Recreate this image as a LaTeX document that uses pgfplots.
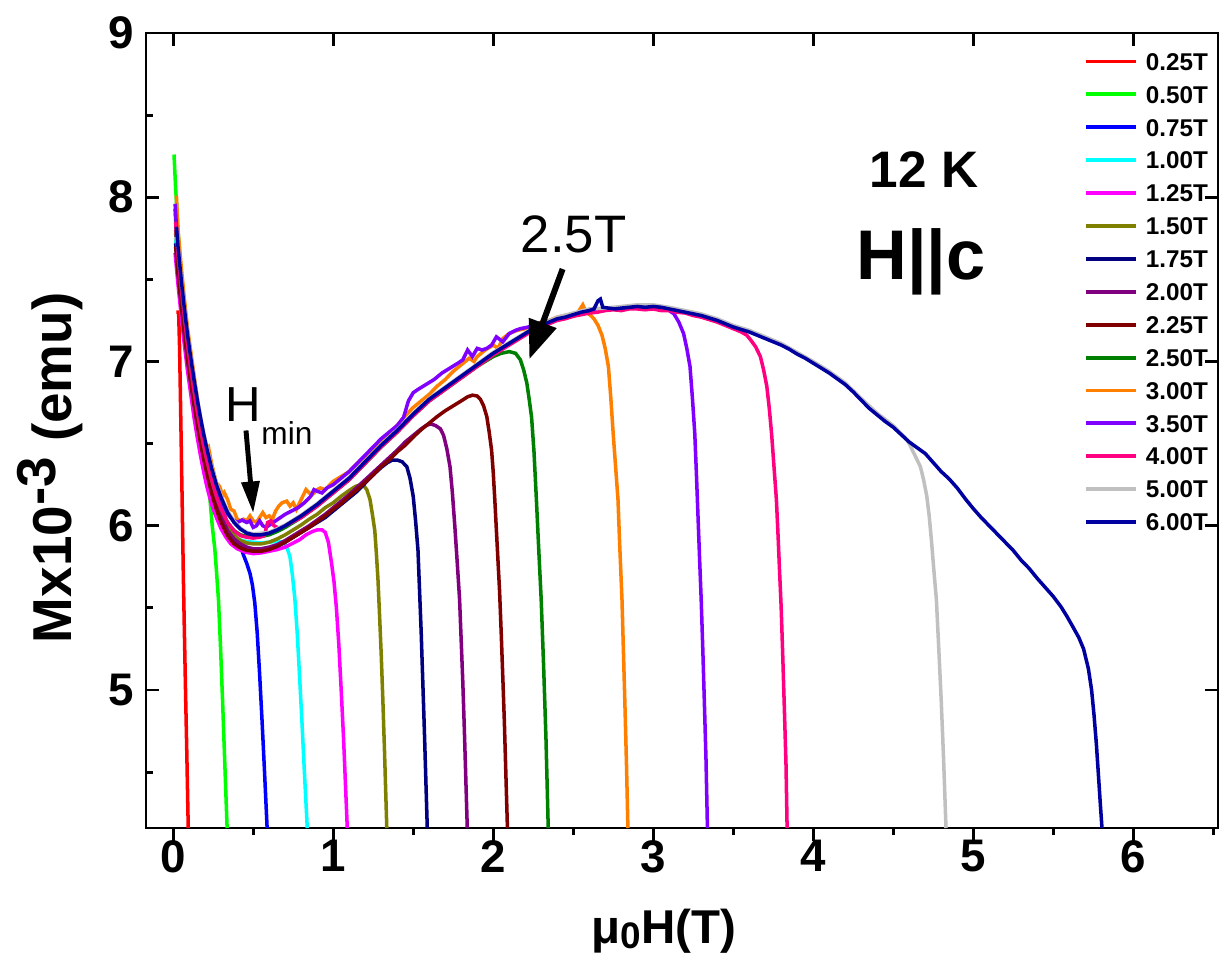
\documentclass[border=0pt]{standalone}
\usepackage{fontspec}
\setmainfont{Liberation Sans}
\usepackage{pgfplots}
\pgfplotsset{compat=1.18}
\usetikzlibrary{arrows.meta}

\definecolor{cA}{HTML}{FF0000}
\definecolor{cB}{HTML}{00FF00}
\definecolor{cC}{HTML}{0000FF}
\definecolor{cD}{HTML}{00FFFF}
\definecolor{cE}{HTML}{FF00FF}
\definecolor{cF}{HTML}{808000}
\definecolor{cG}{HTML}{000080}
\definecolor{cH}{HTML}{800080}
\definecolor{cI}{HTML}{800000}
\definecolor{cJ}{HTML}{008000}
\definecolor{cK}{HTML}{FF8000}
\definecolor{cL}{HTML}{8000FF}
\definecolor{cM}{HTML}{FF0080}
\definecolor{cN}{HTML}{C0C0C0}
\definecolor{cO}{HTML}{0000A0}

\begin{document}
\begin{tikzpicture}
\begin{axis}[
  at={(0,0)}, anchor=south west,
  width=10.72cm, height=7.95cm, scale only axis,
  xmin=-0.17, xmax=6.53, ymin=4.16, ymax=9,
  xtick={0,1,2,3,4,5,6}, ytick={5,6,7,8,9},
  xtick style={draw=none}, ytick style={draw=none},
  axis line style={line width=0.8pt},
  /pgf/number format/assume math mode=true,
  xticklabel={\pgfmathprintnumber{\tick}},
  yticklabel={\pgfmathprintnumber{\tick}},
  tick label style={font=\fontsize{13}{13}\selectfont\bfseries},
  xlabel={μ\raisebox{-1.6pt}{\fontsize{10.5}{10.5}\selectfont 0}H(T)},
  xlabel style={at={([yshift=-1.15cm]rel axis cs:0.483,0)}, anchor=base,
                font=\fontsize{13.5}{14}\selectfont\bfseries},
  ylabel={Mx10\raisebox{0.3em}{-3} (emu)},
  ylabel style={at={([xshift=-0.74cm]rel axis cs:0,0.453)}, anchor=base,
                font=\fontsize{15.6}{16}\selectfont\bfseries},
  clip=false,
  no markers,
  every axis plot/.append style={line width=1pt},
  legend cell align=left,
  legend image code/.code={\draw[#1, line width=1.1pt] (0cm,0pt) -- (0.5cm,0pt);},
  legend style={draw=none, fill=none, at={(0.875,0.975)}, anchor=north west,
                inner sep=0pt, outer sep=0pt, row sep=4.42pt, column sep=2.3pt,
                font=\fontsize{6.9}{8}\selectfont\bfseries,
                nodes={inner sep=0pt, text height=4.94pt, text depth=0pt}},
]

\addplot[cA] coordinates {(0.020,7.30) (0.034,7.30) (0.040,7.08) (0.048,6.62) (0.056,6.15) (0.063,5.72)
  (0.070,5.35) (0.078,4.95) (0.085,4.62) (0.094,4.16)};
\addlegendentry{0.25T}

\addplot[cB] coordinates {(0.005,8.26) (0.015,8.06) (0.03,7.80) (0.05,7.52) (0.07,7.30) (0.09,7.12)
  (0.11,6.97) (0.13,6.84) (0.15,6.72) (0.17,6.60) (0.19,6.48) (0.21,6.34) (0.23,6.16) (0.245,5.99)
  (0.26,5.86) (0.27,5.73) (0.283,5.55) (0.295,5.28) (0.308,4.95) (0.32,4.62) (0.337,4.16)};
\addlegendentry{0.50T}

\addplot[cC] coordinates {(0.015,7.78) (0.03,7.62) (0.05,7.42) (0.07,7.24) (0.09,7.08) (0.11,6.94)
  (0.13,6.81) (0.15,6.69) (0.17,6.58) (0.19,6.48) (0.21,6.39) (0.24,6.27) (0.27,6.16) (0.30,6.08)
  (0.33,6.01) (0.36,5.96) (0.38,5.94) (0.40,5.92) (0.42,5.88) (0.44,5.82) (0.46,5.77) (0.48,5.71)
  (0.495,5.64) (0.51,5.53) (0.525,5.35) (0.54,5.10) (0.555,4.82) (0.57,4.52) (0.587,4.16)};
\addlegendentry{0.75T}

\addplot[cD] coordinates {(0.015,7.75) (0.03,7.60) (0.05,7.40) (0.07,7.22) (0.09,7.06) (0.11,6.92)
  (0.13,6.79) (0.15,6.67) (0.17,6.56) (0.19,6.46) (0.21,6.37) (0.24,6.25) (0.27,6.15) (0.30,6.07)
  (0.33,6.00) (0.36,5.95) (0.40,5.92) (0.45,5.905) (0.50,5.90) (0.55,5.895) (0.60,5.90) (0.65,5.905)
  (0.69,5.90) (0.71,5.87) (0.73,5.81) (0.745,5.70) (0.76,5.56) (0.775,5.35) (0.79,5.08) (0.805,4.80)
  (0.82,4.50) (0.838,4.16)};
\addlegendentry{1.00T}

\addplot[cE] coordinates {(0.012,7.66) (0.03,7.47) (0.05,7.28) (0.07,7.10) (0.09,6.94) (0.11,6.80)
  (0.13,6.66) (0.15,6.54) (0.17,6.43) (0.19,6.33) (0.21,6.24) (0.24,6.13) (0.27,6.05) (0.30,5.98)
  (0.33,5.93) (0.36,5.89) (0.40,5.86) (0.45,5.84) (0.50,5.83) (0.55,5.835) (0.60,5.845) (0.65,5.855)
  (0.70,5.87) (0.74,5.89) (0.79,5.915) (0.83,5.945) (0.87,5.965) (0.90,5.975) (0.93,5.975) (0.95,5.96)
  (0.97,5.90) (0.99,5.77) (1.005,5.66) (1.02,5.50) (1.035,5.28) (1.05,5.00) (1.065,4.70) (1.088,4.16)};
\addlegendentry{1.25T}

\addplot[cF] coordinates {(0.015,7.80) (0.03,7.62) (0.05,7.42) (0.07,7.24) (0.09,7.08) (0.11,6.93)
  (0.13,6.80) (0.15,6.68) (0.17,6.57) (0.19,6.47) (0.21,6.38) (0.24,6.26) (0.27,6.16) (0.30,6.07)
  (0.34,5.99) (0.38,5.94) (0.42,5.91) (0.46,5.895) (0.50,5.89) (0.55,5.89) (0.60,5.90) (0.65,5.92)
  (0.70,5.945) (0.75,5.975) (0.80,6.005) (0.85,6.04) (0.90,6.07) (0.95,6.11) (1.00,6.14) (1.05,6.18)
  (1.10,6.215) (1.14,6.24) (1.17,6.25) (1.19,6.245) (1.21,6.22) (1.23,6.16) (1.245,6.07) (1.26,5.97)
  (1.27,5.83) (1.28,5.67) (1.29,5.45) (1.30,5.22) (1.31,4.95) (1.32,4.65) (1.335,4.16)};
\addlegendentry{1.50T}

\addplot[cG] coordinates {(0.015,7.72) (0.03,7.55) (0.05,7.36) (0.07,7.18) (0.09,7.02) (0.11,6.88)
  (0.13,6.75) (0.15,6.63) (0.17,6.52) (0.19,6.42) (0.21,6.33) (0.24,6.21) (0.27,6.11) (0.30,6.03)
  (0.34,5.95) (0.38,5.90) (0.42,5.87) (0.46,5.855) (0.50,5.85) (0.55,5.85) (0.60,5.86) (0.65,5.875)
  (0.70,5.90) (0.75,5.93) (0.80,5.96) (0.85,5.99) (0.90,6.02) (0.95,6.05) (1.00,6.09) (1.05,6.13)
  (1.10,6.17) (1.15,6.21) (1.20,6.26) (1.25,6.31) (1.30,6.355) (1.34,6.385) (1.37,6.40) (1.40,6.40)
  (1.43,6.39) (1.46,6.36) (1.48,6.29) (1.50,6.18) (1.515,6.03) (1.53,5.85) (1.54,5.60) (1.55,5.35)
  (1.56,5.05) (1.57,4.75) (1.588,4.16)};
\addlegendentry{1.75T}

\addplot[cH] coordinates {(0.012,7.93) (0.02,7.78) (0.04,7.56) (0.06,7.36) (0.08,7.18) (0.10,7.02)
  (0.12,6.88) (0.14,6.75) (0.16,6.63) (0.18,6.52) (0.20,6.42) (0.23,6.29) (0.26,6.17) (0.30,6.06)
  (0.34,5.97) (0.38,5.92) (0.42,5.89) (0.46,5.87) (0.50,5.86) (0.55,5.86) (0.60,5.87) (0.65,5.885)
  (0.70,5.91) (0.75,5.94) (0.80,5.97) (0.85,6.00) (0.90,6.035) (0.95,6.07) (1.00,6.11) (1.05,6.15)
  (1.10,6.19) (1.15,6.235) (1.20,6.28) (1.25,6.325) (1.30,6.37) (1.35,6.415) (1.40,6.46) (1.45,6.51)
  (1.50,6.55) (1.55,6.59) (1.58,6.61) (1.61,6.62) (1.64,6.61) (1.67,6.59) (1.69,6.55) (1.71,6.47)
  (1.73,6.36) (1.745,6.20) (1.76,6.00) (1.775,5.78) (1.79,5.55) (1.80,5.30) (1.81,5.05) (1.82,4.75)
  (1.838,4.16)};
\addlegendentry{2.00T}

\addplot[cI] coordinates {(0.015,7.70) (0.03,7.54) (0.05,7.35) (0.07,7.17) (0.09,7.01) (0.11,6.87)
  (0.13,6.74) (0.15,6.62) (0.17,6.51) (0.19,6.41) (0.21,6.32) (0.24,6.20) (0.27,6.10) (0.30,6.02)
  (0.34,5.94) (0.38,5.89) (0.42,5.865) (0.46,5.85) (0.50,5.845) (0.55,5.845) (0.60,5.855) (0.65,5.875)
  (0.70,5.90) (0.75,5.93) (0.80,5.96) (0.85,5.99) (0.90,6.025) (0.95,6.06) (1.00,6.10) (1.05,6.135)
  (1.10,6.18) (1.15,6.22) (1.20,6.265) (1.25,6.31) (1.30,6.36) (1.35,6.40) (1.40,6.45) (1.45,6.49)
  (1.50,6.54) (1.55,6.585) (1.60,6.625) (1.65,6.665) (1.70,6.70) (1.75,6.73) (1.80,6.76) (1.84,6.785)
  (1.87,6.795) (1.90,6.79) (1.92,6.77) (1.94,6.73) (1.96,6.665) (1.975,6.57) (1.99,6.46) (2.00,6.33)
  (2.01,6.16) (2.025,5.88) (2.04,5.60) (2.05,5.35) (2.06,5.08) (2.07,4.80) (2.089,4.16)};
\addlegendentry{2.25T}

\addplot[cJ] coordinates {(0.015,7.90) (0.03,7.68) (0.05,7.47) (0.07,7.28) (0.09,7.11) (0.11,6.96)
  (0.13,6.82) (0.15,6.70) (0.17,6.59) (0.19,6.49) (0.21,6.40) (0.24,6.28) (0.27,6.18) (0.30,6.10)
  (0.34,6.02) (0.38,5.97) (0.42,5.945) (0.46,5.935) (0.50,5.93) (0.55,5.935) (0.60,5.945) (0.65,5.965)
  (0.70,5.99) (0.75,6.02) (0.80,6.05) (0.85,6.085) (0.90,6.12) (0.95,6.16) (1.00,6.20) (1.05,6.24)
  (1.10,6.28) (1.15,6.33) (1.20,6.38) (1.25,6.43) (1.30,6.48) (1.35,6.525) (1.40,6.57) (1.45,6.62)
  (1.50,6.67) (1.55,6.715) (1.60,6.76) (1.65,6.795) (1.70,6.83) (1.75,6.865) (1.80,6.90) (1.85,6.935)
  (1.90,6.97) (1.95,7.00) (2.00,7.03) (2.05,7.05) (2.10,7.06) (2.14,7.05) (2.17,7.01) (2.19,6.95)
  (2.21,6.87) (2.225,6.77) (2.24,6.66) (2.255,6.45) (2.27,6.16) (2.285,5.85) (2.30,5.55) (2.315,5.15)
  (2.33,4.70) (2.344,4.16)};
\addlegendentry{2.50T}

\addplot[cK] coordinates {(0.02,8.01) (0.03,7.80) (0.05,7.58) (0.07,7.38) (0.09,7.20) (0.11,7.06)
  (0.13,6.92) (0.15,6.78) (0.157,6.69) (0.17,6.64) (0.19,6.55) (0.21,6.47) (0.22,6.48) (0.24,6.38)
  (0.26,6.30) (0.27,6.26) (0.29,6.24) (0.31,6.18) (0.32,6.20) (0.34,6.16) (0.36,6.10) (0.38,6.09)
  (0.40,6.04) (0.42,6.03) (0.44,6.04) (0.46,6.03) (0.48,6.06) (0.50,6.03) (0.52,6.02) (0.54,6.05)
  (0.56,6.08) (0.58,6.05) (0.60,6.06) (0.62,6.04) (0.64,6.09) (0.66,6.12) (0.68,6.14) (0.71,6.15)
  (0.73,6.12) (0.75,6.14) (0.77,6.10) (0.80,6.16) (0.83,6.22) (0.85,6.20) (0.87,6.19) (0.90,6.22)
  (0.92,6.23) (0.95,6.22) (0.98,6.25) (1.00,6.27) (1.05,6.30) (1.10,6.33) (1.15,6.38) (1.20,6.42)
  (1.25,6.47) (1.30,6.52) (1.35,6.565) (1.40,6.61) (1.45,6.67) (1.50,6.72) (1.55,6.76) (1.60,6.80)
  (1.65,6.85) (1.70,6.89) (1.75,6.94) (1.80,6.98) (1.85,7.02) (1.88,7.00) (1.90,7.03) (1.95,7.07)
  (2.00,7.10) (2.03,7.08) (2.06,7.14) (2.10,7.17) (2.15,7.19) (2.20,7.20) (2.25,7.22) (2.30,7.24)
  (2.35,7.25) (2.40,7.27) (2.45,7.28) (2.50,7.29) (2.53,7.30) (2.56,7.345) (2.58,7.30) (2.61,7.28)
  (2.63,7.26) (2.655,7.22) (2.68,7.16) (2.70,7.08) (2.72,6.97) (2.735,6.78) (2.75,6.56) (2.765,6.36)
  (2.78,6.16) (2.79,5.90) (2.805,5.55) (2.815,5.20) (2.825,4.85) (2.833,4.55) (2.842,4.16)};
\addlegendentry{3.00T}

\addplot[cL] coordinates {(0.012,7.96) (0.025,7.74) (0.04,7.58) (0.06,7.40) (0.08,7.23) (0.10,7.08)
  (0.12,6.95) (0.14,6.83) (0.16,6.71) (0.18,6.60) (0.20,6.50) (0.22,6.42) (0.25,6.31) (0.28,6.21)
  (0.31,6.13) (0.34,6.07) (0.37,6.04) (0.40,6.02) (0.43,6.035) (0.46,6.02) (0.48,6.03) (0.50,5.99)
  (0.52,6.00) (0.54,6.03) (0.56,6.00) (0.58,5.99) (0.61,6.01) (0.64,6.03) (0.67,6.05) (0.70,6.07)
  (0.74,6.09) (0.78,6.11) (0.82,6.14) (0.86,6.18) (0.88,6.22) (0.90,6.21) (0.93,6.20) (0.96,6.23)
  (1.00,6.25) (1.05,6.29) (1.10,6.33) (1.15,6.38) (1.20,6.43) (1.25,6.48) (1.30,6.53) (1.35,6.57)
  (1.40,6.61) (1.44,6.66) (1.47,6.76) (1.50,6.81) (1.53,6.83) (1.58,6.86) (1.63,6.89) (1.68,6.93)
  (1.73,6.96) (1.78,6.99) (1.81,7.01) (1.84,7.07) (1.87,7.03) (1.90,7.08) (1.93,7.07) (1.96,7.08)
  (1.99,7.10) (2.02,7.15) (2.06,7.12) (2.10,7.17) (2.14,7.19) (2.17,7.20) (2.22,7.21) (2.27,7.23)
  (2.33,7.24) (2.40,7.26) (2.45,7.27) (2.50,7.29) (2.55,7.30) (2.60,7.31) (2.65,7.32) (2.70,7.32)
  (2.75,7.32) (2.80,7.32) (2.85,7.33) (2.90,7.33) (2.95,7.335) (3.00,7.33) (3.05,7.325) (3.10,7.31)
  (3.13,7.29) (3.16,7.24) (3.19,7.17) (3.21,7.08) (3.23,6.97) (3.245,6.78) (3.26,6.56) (3.27,6.32)
  (3.28,6.06) (3.29,5.80) (3.30,5.55) (3.31,5.25) (3.32,4.92) (3.33,4.58) (3.339,4.16)};
\addlegendentry{3.50T}

\addplot[cM] coordinates {(0.015,7.85) (0.03,7.65) (0.05,7.45) (0.07,7.27) (0.09,7.10) (0.11,6.95)
  (0.13,6.82) (0.15,6.70) (0.17,6.59) (0.19,6.49) (0.21,6.40) (0.24,6.28) (0.27,6.18) (0.30,6.10)
  (0.34,6.02) (0.38,5.97) (0.42,5.94) (0.46,5.93) (0.50,5.925) (0.54,5.93) (0.57,5.94) (0.59,6.02)
  (0.61,6.03) (0.63,6.00) (0.66,5.985) (0.70,6.00) (0.75,6.025) (0.80,6.05) (0.85,6.085) (0.90,6.12)
  (0.95,6.16) (1.00,6.20) (1.05,6.24) (1.10,6.28) (1.15,6.33) (1.20,6.38) (1.25,6.43) (1.30,6.48)
  (1.35,6.525) (1.40,6.57) (1.45,6.62) (1.50,6.67) (1.55,6.715) (1.60,6.76) (1.65,6.795) (1.70,6.83)
  (1.75,6.865) (1.80,6.90) (1.85,6.935) (1.90,6.97) (1.95,7.005) (2.00,7.04) (2.05,7.07) (2.10,7.10)
  (2.15,7.13) (2.20,7.16) (2.25,7.19) (2.30,7.21) (2.35,7.23) (2.40,7.25) (2.45,7.26) (2.50,7.275)
  (2.55,7.285) (2.60,7.295) (2.65,7.30) (2.70,7.31) (2.75,7.315) (2.80,7.31) (2.85,7.32) (2.90,7.32)
  (2.95,7.315) (3.00,7.32) (3.05,7.31) (3.10,7.31) (3.15,7.30) (3.20,7.295) (3.25,7.28) (3.30,7.27)
  (3.35,7.255) (3.40,7.24) (3.45,7.22) (3.50,7.20) (3.55,7.18) (3.585,7.16) (3.61,7.13) (3.64,7.09)
  (3.67,7.03) (3.69,6.95) (3.71,6.85) (3.725,6.72) (3.74,6.56) (3.755,6.36) (3.77,6.16) (3.78,5.95)
  (3.79,5.72) (3.80,5.50) (3.81,5.20) (3.82,4.88) (3.83,4.55) (3.837,4.16)};
\addlegendentry{4.00T}

\addplot[cN] coordinates {(0.015,7.76) (0.03,7.71) (0.05,7.51) (0.07,7.33) (0.09,7.17) (0.11,7.03)
  (0.13,6.90) (0.15,6.78) (0.17,6.67) (0.19,6.57) (0.21,6.48) (0.24,6.36) (0.27,6.26) (0.30,6.18)
  (0.34,6.09) (0.38,6.03) (0.42,5.985) (0.46,5.96) (0.50,5.95) (0.60,5.96) (0.70,6.005) (0.80,6.065)
  (0.90,6.135) (1.00,6.215) (1.10,6.295) (1.20,6.395) (1.30,6.495) (1.40,6.585) (1.50,6.685)
  (1.60,6.775) (1.70,6.845) (1.80,6.915) (1.90,6.985) (2.00,7.055) (2.10,7.115) (2.20,7.175)
  (2.30,7.225) (2.40,7.27) (2.50,7.295) (2.60,7.32) (2.70,7.325) (2.80,7.335) (2.90,7.345)
  (3.00,7.345) (3.10,7.33) (3.20,7.31) (3.30,7.29) (3.40,7.26) (3.50,7.22) (3.60,7.19) (3.70,7.15)
  (3.80,7.11) (3.90,7.055) (4.00,7.00) (4.10,6.94) (4.20,6.87) (4.30,6.775) (4.40,6.685) (4.50,6.61)
  (4.58,6.53) (4.60,6.50) (4.62,6.46) (4.645,6.41) (4.67,6.36) (4.69,6.28) (4.71,6.18) (4.725,6.06)
  (4.74,5.90) (4.755,5.72) (4.77,5.55) (4.785,5.25) (4.80,4.94) (4.815,4.58) (4.83,4.16)};
\addlegendentry{5.00T}

\addplot[cO] coordinates {(0.02,7.82) (0.03,7.70) (0.05,7.50) (0.07,7.32) (0.09,7.16) (0.11,7.02)
  (0.13,6.89) (0.15,6.77) (0.17,6.66) (0.19,6.56) (0.21,6.47) (0.24,6.35) (0.27,6.25) (0.30,6.17)
  (0.34,6.08) (0.38,6.02) (0.42,5.98) (0.46,5.955) (0.50,5.945) (0.55,5.945) (0.60,5.955) (0.65,5.975)
  (0.70,6.00) (0.75,6.03) (0.80,6.06) (0.85,6.095) (0.90,6.13) (0.95,6.17) (1.00,6.21) (1.05,6.25)
  (1.10,6.29) (1.15,6.34) (1.20,6.39) (1.25,6.44) (1.30,6.49) (1.35,6.535) (1.40,6.58) (1.45,6.63)
  (1.50,6.68) (1.55,6.725) (1.60,6.77) (1.65,6.805) (1.70,6.84) (1.75,6.875) (1.80,6.91) (1.85,6.945)
  (1.90,6.98) (1.95,7.015) (2.00,7.05) (2.05,7.08) (2.10,7.11) (2.15,7.14) (2.20,7.17) (2.25,7.20)
  (2.30,7.22) (2.35,7.24) (2.40,7.26) (2.45,7.27) (2.50,7.285) (2.55,7.30) (2.60,7.31) (2.63,7.32)
  (2.655,7.37) (2.67,7.38) (2.685,7.33) (2.72,7.325) (2.76,7.32) (2.80,7.325) (2.85,7.33) (2.90,7.335)
  (2.95,7.33) (3.00,7.335) (3.05,7.33) (3.10,7.32) (3.15,7.31) (3.20,7.30) (3.25,7.29) (3.30,7.28)
  (3.35,7.265) (3.40,7.25) (3.45,7.23) (3.50,7.21) (3.55,7.195) (3.60,7.18) (3.65,7.16) (3.70,7.14)
  (3.75,7.12) (3.80,7.10) (3.85,7.075) (3.90,7.045) (3.95,7.02) (4.00,6.99) (4.05,6.96) (4.10,6.93)
  (4.15,6.895) (4.20,6.86) (4.25,6.815) (4.30,6.765) (4.35,6.715) (4.40,6.675) (4.45,6.635) (4.50,6.60)
  (4.55,6.555) (4.60,6.51) (4.65,6.475) (4.70,6.44) (4.75,6.385) (4.80,6.33) (4.85,6.285) (4.90,6.23)
  (4.95,6.165) (5.00,6.105) (5.05,6.05) (5.10,6.00) (5.15,5.95) (5.20,5.90) (5.25,5.85) (5.30,5.79)
  (5.35,5.74) (5.40,5.68) (5.45,5.625) (5.50,5.57) (5.55,5.505) (5.585,5.45) (5.62,5.39) (5.66,5.32)
  (5.69,5.25) (5.72,5.13) (5.74,5.00) (5.755,4.85) (5.77,4.67) (5.785,4.45) (5.795,4.30) (5.805,4.16)};
\addlegendentry{6.00T}

% ticks: bottom outward, top/left/right inward
\pgfplotsinvokeforeach{0,1,2,3,4,5,6}{
  \draw[line width=0.8pt] (axis cs:#1,4.16) -- ([yshift=-0.13cm]axis cs:#1,4.16);
  \draw[line width=0.8pt] (axis cs:#1,9) -- ([yshift=-0.13cm]axis cs:#1,9);
}
\pgfplotsinvokeforeach{0.5,1.5,2.5,3.5,4.5,5.5,6.5}{
  \draw[line width=0.8pt] (axis cs:#1,4.16) -- ([yshift=-0.07cm]axis cs:#1,4.16);
}
\pgfplotsinvokeforeach{5,6,7,8}{
  \draw[line width=0.8pt] (axis cs:-0.17,#1) -- ([xshift=0.13cm]axis cs:-0.17,#1);
  \draw[line width=0.8pt] (axis cs:6.53,#1) -- ([xshift=-0.13cm]axis cs:6.53,#1);
}
\pgfplotsinvokeforeach{4.5,5.5,6.5,7.5,8.5}{
  \draw[line width=0.8pt] (axis cs:-0.17,#1) -- ([xshift=0.07cm]axis cs:-0.17,#1);
}

% annotations
\node[anchor=base, inner sep=0pt, font=\fontsize{14.6}{15}\selectfont\bfseries] at (axis cs:4.693,8.057) {12 K};
\node[anchor=base, inner sep=0pt, font=\fontsize{20}{20}\selectfont\bfseries] at (axis cs:4.674,7.497) {H||c};
\node[anchor=base west, inner sep=0pt, font=\fontsize{15}{15}\selectfont] at (axis cs:2.168,7.661) {2.5T};
\node[anchor=base west, inner sep=0pt, font=\fontsize{14}{14}\selectfont] at (axis cs:0.325,6.634)
  {H\raisebox{-6.6pt}{\fontsize{9}{9}\selectfont min}};
\draw[line width=1.7pt, -{Triangle[length=11pt,width=8pt]}] (axis cs:2.434,7.563) -- (axis cs:2.226,7.014);
\draw[line width=1.4pt, -{Triangle[length=9pt,width=5pt]}] (axis cs:0.455,6.580) -- (axis cs:0.500,6.077);
\end{axis}
\pgfresetboundingbox
\useasboundingbox (-1.46,-1.36) rectangle (10.79,8.28);
\end{tikzpicture}
\end{document}
